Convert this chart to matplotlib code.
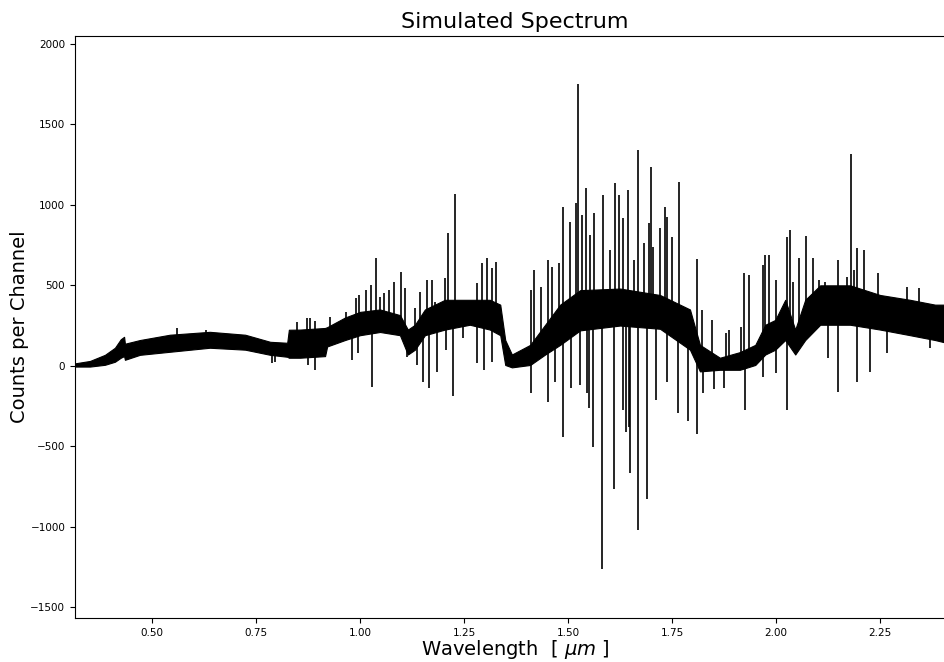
import numpy as np
import matplotlib
matplotlib.use("Agg")
import matplotlib.pyplot as plt

# continuum band of the simulated spectrum: wavelength [um], lower / upper counts
band_wl = [0.315, 0.351, 0.387, 0.411, 0.425, 0.433, 0.435, 0.471, 0.543, 0.639,
           0.724, 0.784, 0.825, 0.829, 0.856, 0.916, 0.921, 0.964, 1.000, 1.048,
           1.096, 1.115, 1.132, 1.156, 1.204, 1.264, 1.312, 1.337, 1.349, 1.365,
           1.409, 1.445, 1.481, 1.529, 1.625, 1.721, 1.793, 1.817, 1.865, 1.913,
           1.950, 1.974, 1.998, 2.022, 2.046, 2.070, 2.106, 2.178, 2.250, 2.322,
           2.382, 2.430]
band_lo = [-5, -5, 6, 25, 50, 60, 37, 68, 87, 112,
           100, 68, 56, 50, 50, 60, 120, 160, 190, 210,
           190, 70, 100, 190, 225, 255, 225, 190, 5, -10,
           5, 70, 130, 220, 250, 230, 100, -35, -25, -25,
           5, 70, 100, 160, 70, 160, 255, 255, 225, 190,
           160, 130]
band_hi = [15, 30, 68, 112, 165, 180, 137, 160, 193, 211,
           193, 149, 143, 224, 225, 235, 240, 300, 335, 350,
           315, 225, 255, 350, 410, 410, 410, 380, 160, 70,
           130, 255, 380, 470, 480, 440, 350, 130, 50, 85,
           130, 255, 285, 410, 225, 410, 500, 500, 440, 410,
           380, 380]

# single-channel excursions above the continuum
up_wl = [0.560, 0.630, 0.849, 0.873, 0.880, 0.892, 0.928, 0.966, 0.990, 0.998,
         1.014, 1.026, 1.038, 1.048, 1.058, 1.070, 1.082, 1.099, 1.108, 1.132,
         1.144, 1.161, 1.173, 1.180, 1.204, 1.212, 1.228, 1.281, 1.293, 1.305,
         1.317, 1.327, 1.411, 1.418, 1.435, 1.452, 1.462, 1.478, 1.488, 1.505,
         1.519, 1.524, 1.534, 1.543, 1.553, 1.562, 1.584, 1.601, 1.613, 1.623,
         1.632, 1.644, 1.659, 1.668, 1.683, 1.695, 1.700, 1.704, 1.721, 1.733,
         1.738, 1.750, 1.767, 1.810, 1.822, 1.846, 1.880, 1.887, 1.916, 1.923,
         1.935, 1.969, 1.974, 1.983, 2.000, 2.026, 2.034, 2.041, 2.055, 2.072,
         2.089, 2.103, 2.118, 2.149, 2.171, 2.180, 2.188, 2.195, 2.212, 2.245,
         2.315, 2.344]
up_val = [236, 224, 273, 298, 298, 280, 304, 336, 423, 441,
          472, 503, 671, 429, 454, 472, 522, 584, 485, 360,
          460, 534, 534, 398, 547, 827, 1069, 516, 640, 671,
          609, 646, 472, 597, 491, 659, 615, 640, 988, 895,
          1013, 1753, 938, 1106, 814, 951, 1063, 721, 1137, 1063,
          920, 1094, 659, 1342, 764, 889, 1237, 740, 857, 988,
          926, 800, 1144, 665, 348, 286, 205, 224, 242, 578,
          566, 628, 690, 690, 534, 802, 845, 522, 671, 808,
          671, 534, 522, 659, 553, 1318, 597, 733, 721, 578,
          491, 485]

# single-channel excursions below the continuum
dn_wl = [0.788, 0.796, 0.875, 0.892, 0.981, 0.995, 1.029, 1.113, 1.137, 1.151,
         1.166, 1.185, 1.207, 1.224, 1.248, 1.281, 1.298, 1.317, 1.411, 1.452,
         1.469, 1.488, 1.507, 1.529, 1.546, 1.550, 1.560, 1.582, 1.611, 1.632,
         1.639, 1.647, 1.649, 1.668, 1.690, 1.712, 1.738, 1.764, 1.788, 1.810,
         1.825, 1.851, 1.875, 1.925, 1.969, 2.000, 2.026, 2.125, 2.149, 2.195,
         2.226, 2.267, 2.370]
dn_val = [19, 25, 6, -25, 37, 81, -130, 57, 6, -99,
          -137, -37, 100, -186, 174, 19, -25, 25, -168, -224,
          -99, -441, -137, -118, -168, -261, -503, -1262, -764, -273,
          -410, -379, -665, -1019, -827, -211, -99, -292, -342, -423,
          -168, -143, -137, -273, -68, -43, -273, 50, -162, -99,
          -37, 81, 112]

fig = plt.figure(figsize=(9.45, 6.62), dpi=100)
ax = fig.add_axes([75 / 945, 44 / 662, 880 / 945, 582 / 662])

ax.fill_between(band_wl, band_lo, band_hi, color='black', linewidth=0.8)

# spikes start from the middle of the band
mid_wl = np.array(band_wl)
mid_val = (np.array(band_lo) + np.array(band_hi)) / 2.0
up_base = np.interp(up_wl, mid_wl, mid_val)
dn_base = np.interp(dn_wl, mid_wl, mid_val)
ax.vlines(up_wl, up_base, up_val, color='black', linewidth=1.2)
ax.vlines(dn_wl, dn_val, dn_base, color='black', linewidth=1.2)

ax.set_xlim(0.315, 2.43)
ax.set_ylim(-1568, 2050)
ax.set_xticks([0.50, 0.75, 1.00, 1.25, 1.50, 1.75, 2.00, 2.25])
ax.set_yticks([-1500, -1000, -500, 0, 500, 1000, 1500, 2000])
ax.tick_params(labelsize=7.5)
ax.set_title('Simulated Spectrum', fontsize=16)
ax.set_xlabel(r'Wavelength  [ $\mu m$ ]', fontsize=14, labelpad=0)
ax.set_ylabel('Counts per Channel', fontsize=14, labelpad=1)

fig.savefig('out.png', dpi=100)
